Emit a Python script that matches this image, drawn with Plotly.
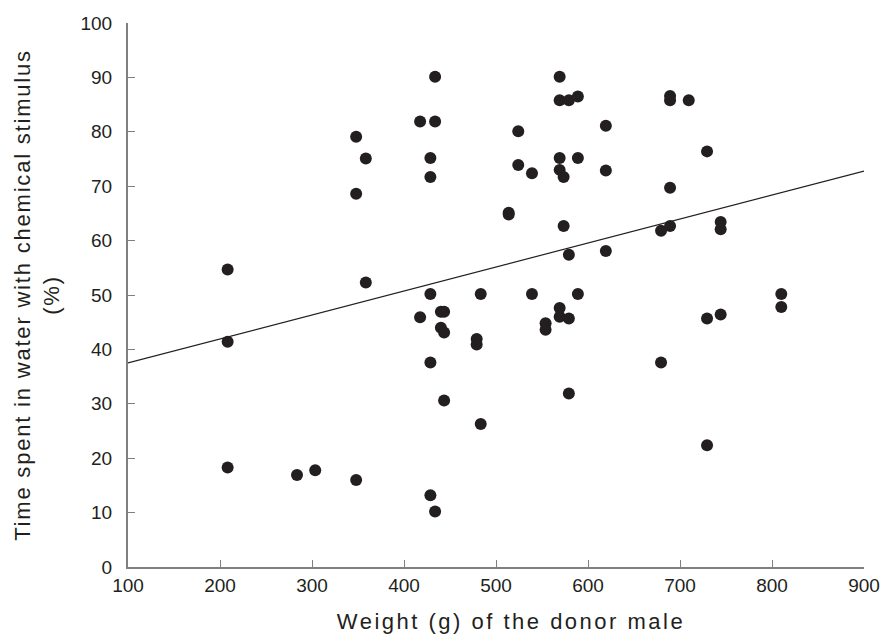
import plotly.graph_objects as go

weight_g = [
    417.5, 348, 358.5, 348, 208.3, 358.5,
    433.8, 433.8, 428.7, 428.7, 524.2, 524.2, 539.1, 513.8, 513.8,
    569.2, 569.2, 579.2, 589, 619.4, 569.2, 589, 569.2, 573.5, 619.4,
    689.2, 689.2, 709.5, 689.2, 573.5, 579.2, 619.4, 679.4, 689.2,
    428.7, 483.4, 539.1, 589,
    729.4, 744.2, 744.2, 810.1, 810.1,
    417.5, 208.3, 208.3, 283.7, 303.5, 348,
    440.1, 443.6, 440.1, 443.6, 479, 479, 428.7, 443.6, 483.4, 428.7, 433.8,
    553.9, 553.9, 569.2, 569.2, 579.2, 679.4, 579.2,
    729.4, 744.2, 729.4,
]
time_pct = [
    81.9, 79.1, 75.1, 68.6, 54.7, 52.3,
    90.1, 81.9, 75.2, 71.7, 80.1, 73.9, 72.4, 65.1, 64.8,
    90.1, 85.8, 85.8, 86.5, 81.1, 75.2, 75.2, 73.0, 71.7, 72.9,
    86.6, 85.8, 85.8, 69.7, 62.7, 57.4, 58.1, 61.8, 62.7,
    50.2, 50.2, 50.2, 50.2,
    76.4, 63.4, 62.1, 50.2, 47.8,
    45.9, 41.4, 18.3, 16.9, 17.8, 16.0,
    46.9, 46.9, 44.0, 43.1, 41.9, 40.9, 37.6, 30.6, 26.3, 13.2, 10.2,
    44.8, 43.6, 47.6, 46.0, 45.7, 37.6, 31.9,
    45.7, 46.4, 22.4,
]

fit_x = [100, 900]
fit_intercept = 33.1
fit_slope = 0.0441
fit_y = [fit_intercept + fit_slope * v for v in fit_x]

x_ticks = [100, 200, 300, 400, 500, 600, 700, 800, 900]
y_ticks = [0, 10, 20, 30, 40, 50, 60, 70, 80, 90, 100]

fig = go.Figure()
fig.add_trace(go.Scatter(
    x=fit_x, y=fit_y, mode="lines",
    line=dict(color="#231f20", width=1.2),
    showlegend=False, hoverinfo="skip", cliponaxis=False,
))
fig.add_trace(go.Scatter(
    x=weight_g, y=time_pct, mode="markers",
    marker=dict(color="#231f20", size=12, line=dict(width=0)),
    showlegend=False,
))

font_family = "Liberation Sans, Arial, sans-serif"
axis_common = dict(
    showgrid=False, zeroline=False, showline=True, automargin=False,
    linecolor="#7f7f7f", linewidth=2,
    ticks="inside", ticklen=7, tickwidth=1, tickcolor="#7f7f7f",
    tickfont=dict(family=font_family, size=19, color="#231f20"),
)

fig.update_layout(
    width=882, height=644,
    margin=dict(l=127.5, r=17.5, t=23, b=77, autoexpand=False),
    paper_bgcolor="white", plot_bgcolor="white",
    xaxis=dict(
        range=[100, 900], tickvals=x_ticks,
        title=dict(text="Weight (g) of the donor male",
                   font=dict(family=font_family, size=22, color="#231f20"),
                   standoff=19),
        **axis_common,
    ),
    yaxis=dict(
        range=[0, 100], tickvals=y_ticks,
        title=dict(text="Time spent in water with chemical stimulus<br>(%)",
                   font=dict(family=font_family, size=22, color="#231f20"),
                   standoff=15),
        ticklabelstandoff=10,
        **axis_common,
    ),
)

post = """
document.body.style.margin = '0';
document.querySelectorAll('.xtitle').forEach(function(el){
    el.style.letterSpacing = '2.5px';
    el.setAttribute('dx', '15');
});
document.querySelectorAll('.ytitle').forEach(function(el){ el.style.letterSpacing = '1.8px'; });
"""

fig.write_html("out.html", post_script=post, config={"displayModeBar": False})
